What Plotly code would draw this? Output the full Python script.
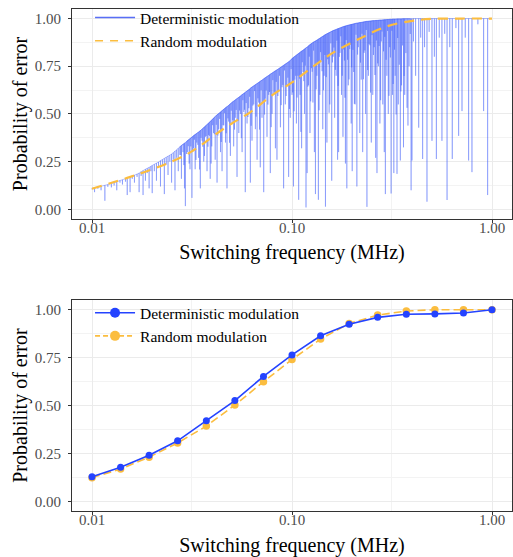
import plotly.graph_objects as go

# ---------------- data: top panel ----------------
# deterministic modulation (dense, spiky): each entry = frequency, local upper value, dip minimum
spike_f = [
    0.0100, 0.0103, 0.0107, 0.0111, 0.0116, 0.0120, 0.0125, 0.0129, 0.0133, 0.0138, 0.0142, 0.0147, 0.0150,
    0.0155, 0.0159, 0.0163, 0.0168, 0.0172, 0.0176, 0.0180, 0.0185, 0.0189, 0.0193, 0.0197, 0.0200,
    0.0205, 0.0210, 0.0215, 0.0220, 0.0225, 0.0230, 0.0235, 0.0240, 0.0245, 0.0250, 0.0255, 0.0260,
    0.0265, 0.0270, 0.0275, 0.0280, 0.0285, 0.0290, 0.0293, 0.0297,
    0.0300, 0.0306, 0.0312, 0.0316, 0.0322, 0.0328, 0.0334, 0.0341, 0.0348, 0.0355, 0.0362, 0.0369,
    0.0376, 0.0383, 0.0390, 0.0397, 0.0405, 0.0413, 0.0422, 0.0430, 0.0439, 0.0447, 0.0456, 0.0465,
    0.0473, 0.0482, 0.0492, 0.0502, 0.0511, 0.0521, 0.0531, 0.0542, 0.0552, 0.0563, 0.0574, 0.0584,
    0.0596, 0.0608, 0.0619, 0.0631, 0.0644, 0.0656, 0.0669, 0.0681, 0.0694, 0.0708, 0.0722, 0.0736,
    0.0750, 0.0765, 0.0779, 0.0795, 0.0810, 0.0826, 0.0841, 0.0858, 0.0875, 0.0892, 0.0908, 0.0926,
    0.0944, 0.0962, 0.0980,
    0.1000, 0.1017, 0.1034, 0.1052, 0.1070, 0.1080, 0.1098, 0.1117, 0.1136, 0.1155, 0.1175, 0.1190,
    0.1210, 0.1230, 0.1251, 0.1272, 0.1294, 0.1310, 0.1332, 0.1355, 0.1378, 0.1401, 0.1425, 0.1449,
    0.1470, 0.1495, 0.1520, 0.1546, 0.1580, 0.1607, 0.1634, 0.1662, 0.1690, 0.1710, 0.1739, 0.1768,
    0.1798, 0.1828, 0.1850, 0.1880, 0.1912, 0.1944, 0.1977, 0.2000, 0.2034, 0.2068, 0.2110, 0.2146,
    0.2182, 0.2219, 0.2256, 0.2294, 0.2333, 0.2370, 0.2410, 0.2451, 0.2492, 0.2534, 0.2577, 0.2620,
    0.2660, 0.2705, 0.2751, 0.2797, 0.2844, 0.2893, 0.2930, 0.2980, 0.3030, 0.3080,
    0.3130, 0.3180, 0.3230, 0.3280, 0.3350, 0.3400, 0.3480, 0.3530, 0.3610, 0.3660, 0.3760, 0.3850,
    0.3940, 0.3980, 0.4050, 0.4150, 0.4300, 0.4400, 0.4500, 0.4600, 0.4730, 0.4850, 0.5010, 0.5150,
    0.5270, 0.5450, 0.5620, 0.5800, 0.5960, 0.6150, 0.6330, 0.6600, 0.6810, 0.7080, 0.7350, 0.7640,
    0.7940, 0.8500, 0.9080, 0.9510, 1.0000,
]
spike_top = [
    0.110, 0.113, 0.117, 0.121, 0.126, 0.130, 0.136, 0.141, 0.145, 0.151, 0.155, 0.161, 0.164,
    0.170, 0.175, 0.179, 0.185, 0.190, 0.197, 0.203, 0.210, 0.215, 0.220, 0.225, 0.230,
    0.236, 0.242, 0.248, 0.255, 0.261, 0.267, 0.273, 0.279, 0.284, 0.290, 0.297, 0.305,
    0.312, 0.320, 0.328, 0.335, 0.340, 0.346, 0.349, 0.354,
    0.360, 0.367, 0.374, 0.379, 0.386, 0.392, 0.398, 0.405, 0.412, 0.420, 0.428, 0.436,
    0.444, 0.452, 0.460, 0.468, 0.478, 0.486, 0.495, 0.502, 0.510, 0.517, 0.525, 0.532,
    0.538, 0.545, 0.553, 0.561, 0.567, 0.574, 0.580, 0.587, 0.594, 0.601, 0.607, 0.613,
    0.620, 0.627, 0.634, 0.641, 0.647, 0.653, 0.659, 0.665, 0.671, 0.677, 0.684, 0.690,
    0.696, 0.702, 0.708, 0.714, 0.720, 0.726, 0.731, 0.737, 0.743, 0.749, 0.755, 0.761,
    0.767, 0.773, 0.779,
    0.790, 0.796, 0.802, 0.808, 0.814, 0.817, 0.823, 0.829, 0.834, 0.840, 0.846, 0.850,
    0.857, 0.863, 0.869, 0.874, 0.879, 0.882, 0.887, 0.892, 0.897, 0.902, 0.907, 0.912,
    0.916, 0.920, 0.924, 0.928, 0.933, 0.937, 0.940, 0.943, 0.946, 0.948, 0.951, 0.954,
    0.957, 0.959, 0.961, 0.963, 0.965, 0.967, 0.969, 0.970, 0.972, 0.974, 0.976, 0.977,
    0.979, 0.980, 0.981, 0.983, 0.984, 0.985, 0.986, 0.987, 0.988, 0.989, 0.989, 0.990,
    0.990, 0.991, 0.992, 0.992, 0.993, 0.994, 0.994, 0.995, 0.995, 0.996,
    0.996, 0.997, 0.997, 0.997, 0.998, 0.998, 0.998, 0.998, 0.999, 0.999, 0.999, 0.999,
    0.999, 0.999, 1.000, 1.000, 1.000, 1.000, 1.000, 1.000, 1.000, 1.000, 1.000, 1.000,
    1.000, 1.000, 1.000, 1.000, 1.000, 1.000, 1.000, 1.000, 1.000, 1.000, 1.000, 1.000,
    1.000, 1.000, 1.000, 1.000, 1.000,
]
spike_low = [
    0.105, 0.090, 0.108, 0.100, 0.045, 0.118, 0.115, 0.125, 0.100, 0.140, 0.130, 0.145, 0.075,
    0.090, 0.160, 0.140, 0.170, 0.090, 0.175, 0.075, 0.150, 0.190, 0.110, 0.200, 0.085,
    0.200, 0.150, 0.220, 0.120, 0.230, 0.080, 0.235, 0.180, 0.250, 0.140, 0.260, 0.100,
    0.270, 0.200, 0.285, 0.160, 0.300, 0.110, 0.017, 0.290,
    0.300, 0.240, 0.330, 0.060, 0.320, 0.210, 0.350, 0.270, 0.110, 0.360, 0.250, 0.380,
    0.200, 0.390, 0.160, 0.330, 0.400, 0.260, 0.140, 0.420, 0.300, 0.200, 0.440, 0.350,
    0.110, 0.460, 0.280, 0.450, 0.330, 0.480, 0.170, 0.400, 0.500, 0.300, 0.510, 0.090,
    0.450, 0.530, 0.140, 0.360, 0.550, 0.420, 0.260, 0.560, 0.220, 0.480, 0.090, 0.580,
    0.380, 0.600, 0.190, 0.500, 0.610, 0.320, 0.260, 0.620, 0.430, 0.640, 0.110, 0.550,
    0.650, 0.170, 0.480,
    0.600, 0.120, 0.680, 0.450, 0.700, 0.050, 0.600, 0.320, 0.720, 0.500, 0.010, 0.190,
    0.650, 0.400, 0.740, 0.560, 0.300, 0.080, 0.700, 0.050, 0.600, 0.780, 0.420, 0.700,
    0.014, 0.350, 0.760, 0.550, 0.150, 0.800, 0.480, 0.700, 0.260, 0.300, 0.820, 0.600,
    0.380, 0.780, 0.240, 0.110, 0.650, 0.840, 0.450, 0.200, 0.720, 0.550, 0.120, 0.850,
    0.400, 0.680, 0.300, 0.820, 0.500, 0.013, 0.700, 0.860, 0.350, 0.600, 0.850, 0.270,
    0.190, 0.750, 0.450, 0.880, 0.550, 0.300, 0.080, 0.700, 0.500, 0.850,
    0.083, 0.600, 0.190, 0.700, 0.186, 0.550, 0.256, 0.650, 0.325, 0.600, 0.532, 0.750,
    0.100, 0.256, 0.880, 0.700, 0.428, 0.900, 0.264, 0.850, 0.040, 0.930, 0.359, 0.800,
    0.264, 0.900, 0.359, 0.920, 0.049, 0.850, 0.264, 0.950, 0.385, 0.515, 0.900, 0.256,
    0.195, 0.970, 0.515, 0.075, 1.000,
]

# shallower dips forming the dense band just under the upper edge (frequency, upper value, dip minimum)
band_f = [
    0.0278, 0.0288, 0.0303, 0.0309, 0.0319, 0.0325, 0.0331, 0.0338, 0.0345, 0.0351, 0.0358, 0.0365,
    0.0372, 0.0380, 0.0386, 0.0394, 0.0401, 0.0409, 0.0418, 0.0426, 0.0435, 0.0443, 0.0452, 0.0460,
    0.0469, 0.0478, 0.0487, 0.0497, 0.0506, 0.0516, 0.0526, 0.0537, 0.0547, 0.0558, 0.0568, 0.0579,
    0.0590, 0.0602, 0.0614, 0.0625, 0.0637, 0.0650, 0.0662, 0.0675, 0.0688, 0.0701, 0.0715, 0.0729,
    0.0743, 0.0758, 0.0772, 0.0787, 0.0802, 0.0818, 0.0834, 0.0850, 0.0866, 0.0883, 0.0900, 0.0917,
    0.0935, 0.0953, 0.0971, 0.0990, 0.1008, 0.1025, 0.1043, 0.1061, 0.1089, 0.1107, 0.1126, 0.1145,
    0.1165, 0.1200, 0.1220, 0.1240, 0.1261, 0.1283, 0.1321, 0.1343, 0.1366, 0.1389, 0.1413, 0.1437,
    0.1459, 0.1483, 0.1508, 0.1533, 0.1563, 0.1593, 0.1620, 0.1648, 0.1676, 0.1700, 0.1724, 0.1753,
    0.1783, 0.1813, 0.1839, 0.1865, 0.1896, 0.1928, 0.1960, 0.1988, 0.2017, 0.2051, 0.2089, 0.2128,
    0.2164, 0.2200, 0.2238, 0.2275, 0.2313, 0.2351, 0.2390, 0.2430, 0.2471, 0.2513, 0.2555, 0.2598,
    0.2640, 0.2683, 0.2728, 0.2774, 0.2820, 0.2868, 0.2911, 0.2955, 0.3005, 0.3055, 0.3105, 0.3155,
    0.3205, 0.3255, 0.3315, 0.3375, 0.3440, 0.3505, 0.3570, 0.3635, 0.3710, 0.3800, 0.3900,
]
band_top = [
    0.332, 0.344, 0.363, 0.370, 0.382, 0.389, 0.395, 0.402, 0.409, 0.415, 0.424, 0.432,
    0.440, 0.448, 0.456, 0.464, 0.473, 0.482, 0.491, 0.499, 0.506, 0.513, 0.521, 0.528,
    0.535, 0.541, 0.549, 0.557, 0.564, 0.570, 0.577, 0.584, 0.590, 0.597, 0.604, 0.610,
    0.617, 0.624, 0.630, 0.638, 0.644, 0.650, 0.656, 0.662, 0.668, 0.674, 0.680, 0.687,
    0.693, 0.699, 0.705, 0.711, 0.717, 0.723, 0.728, 0.734, 0.740, 0.746, 0.752, 0.758,
    0.764, 0.770, 0.776, 0.785, 0.793, 0.799, 0.805, 0.811, 0.820, 0.826, 0.831, 0.837,
    0.843, 0.853, 0.860, 0.866, 0.871, 0.877, 0.884, 0.889, 0.894, 0.899, 0.904, 0.909,
    0.914, 0.918, 0.922, 0.926, 0.930, 0.935, 0.938, 0.941, 0.944, 0.947, 0.949, 0.952,
    0.955, 0.958, 0.960, 0.962, 0.964, 0.966, 0.968, 0.969, 0.971, 0.973, 0.975, 0.976,
    0.978, 0.979, 0.980, 0.982, 0.983, 0.985, 0.985, 0.986, 0.987, 0.988, 0.989, 0.989,
    0.990, 0.990, 0.991, 0.992, 0.992, 0.993, 0.994, 0.994, 0.995, 0.995, 0.996, 0.996,
    0.997, 0.997, 0.997, 0.998, 0.998, 0.998, 0.999, 0.999, 0.999, 0.999, 0.999,
]
band_low = [
    0.284, 0.232, 0.331, 0.210, 0.302, 0.365, 0.259, 0.338, 0.209, 0.375, 0.328, 0.280,
    0.384, 0.328, 0.384, 0.240, 0.441, 0.394, 0.443, 0.387, 0.474, 0.353, 0.441, 0.504,
    0.399, 0.477, 0.349, 0.517, 0.468, 0.418, 0.521, 0.464, 0.518, 0.373, 0.572, 0.522,
    0.557, 0.484, 0.590, 0.438, 0.544, 0.620, 0.486, 0.582, 0.418, 0.624, 0.560, 0.497,
    0.623, 0.549, 0.615, 0.431, 0.677, 0.613, 0.668, 0.594, 0.700, 0.546, 0.652, 0.728,
    0.594, 0.690, 0.526, 0.735, 0.613, 0.514, 0.700, 0.586, 0.685, 0.406, 0.771, 0.672,
    0.753, 0.643, 0.800, 0.566, 0.721, 0.832, 0.629, 0.769, 0.519, 0.824, 0.724, 0.624,
    0.809, 0.693, 0.787, 0.506, 0.870, 0.770, 0.848, 0.731, 0.884, 0.647, 0.799, 0.907,
    0.700, 0.838, 0.585, 0.887, 0.784, 0.681, 0.863, 0.744, 0.836, 0.553, 0.915, 0.811,
    0.888, 0.769, 0.920, 0.682, 0.833, 0.940, 0.730, 0.866, 0.612, 0.913, 0.809, 0.704,
    0.885, 0.765, 0.856, 0.572, 0.932, 0.828, 0.904, 0.784, 0.935, 0.595, 0.796, 0.936,
    0.657, 0.837, 0.497, 0.898, 0.758, 0.618, 0.859, 0.699, 0.819, 0.439, 0.919,
]

# random modulation (smooth)
rand_f = [0.01, 0.015, 0.02, 0.025, 0.03, 0.035, 0.042, 0.05, 0.062, 0.08, 0.1, 0.13, 0.16,
          0.22, 0.3, 0.4, 0.5, 0.7, 1.0]
rand_p = [0.108, 0.165, 0.21, 0.25, 0.29, 0.335, 0.397, 0.45, 0.51, 0.60, 0.665, 0.755, 0.82,
          0.897, 0.96, 0.988, 0.998, 1.0, 1.0]

# ---------------- data: bottom panel ----------------
freq_b = [0.01, 0.0139, 0.0193, 0.0268, 0.0373, 0.0518, 0.072, 0.1, 0.139, 0.193, 0.268,
          0.373, 0.518, 0.72, 1.0]
det_b = [0.129, 0.178, 0.241, 0.316, 0.421, 0.526, 0.652, 0.764, 0.864, 0.924, 0.960,
         0.976, 0.978, 0.983, 1.0]
rand_b = [0.124, 0.169, 0.231, 0.305, 0.393, 0.503, 0.624, 0.740, 0.847, 0.928, 0.972,
          0.993, 1.0, 1.0, 1.0]

# ticks
x_ticks = [0.01, 0.1, 1.0]
x_ticklabels = ["0.01", "0.10", "1.00"]
x_minor = [0.0316, 0.316]
y_ticks = [0.0, 0.25, 0.5, 0.75, 1.0]
y_ticklabels = ["0.00", "0.25", "0.50", "0.75", "1.00"]
y_minor = [0.125, 0.375, 0.625, 0.875]

BLUE = "#2443FF"
GOLD = "#FBBD3F"
SPIKE = "rgba(55,85,250,0.42)"
FONT = "Liberation Serif, Times New Roman, serif"


def spiky(fs, tops, lows):
    xs, ys = [], []
    for f, t, l in zip(fs, tops, lows):
        xs += [f, f, f]
        ys += [t, l, t]
    return xs, ys


fig = go.Figure()

# --- top panel ---
bx, by = spiky(band_f, band_top, band_low)
fig.add_trace(go.Scatter(x=bx, y=by, mode="lines", xaxis="x", yaxis="y",
                         line=dict(color=SPIKE, width=0.85),
                         showlegend=False, hoverinfo="skip"))
sx, sy = spiky(spike_f, spike_top, spike_low)
fig.add_trace(go.Scatter(x=sx, y=sy, mode="lines", xaxis="x", yaxis="y",
                         line=dict(color=SPIKE, width=0.85),
                         showlegend=False, hoverinfo="skip"))
fig.add_trace(go.Scatter(x=rand_f, y=rand_p, mode="lines", xaxis="x", yaxis="y",
                         line=dict(color=GOLD, width=2.2, dash="10px,7px", shape="spline"),
                         showlegend=False))
# legend entries (top)
fig.add_trace(go.Scatter(x=[None], y=[None], mode="lines", xaxis="x", yaxis="y",
                         name="Deterministic modulation", legend="legend",
                         line=dict(color="rgba(60,85,245,0.85)", width=1.5)))
fig.add_trace(go.Scatter(x=[None], y=[None], mode="lines", xaxis="x", yaxis="y",
                         name="Random modulation", legend="legend",
                         line=dict(color=GOLD, width=1.5, dash="8px,7px")))

# --- bottom panel ---
fig.add_trace(go.Scatter(x=freq_b, y=rand_b, mode="lines+markers", xaxis="x2", yaxis="y2",
                         line=dict(color=GOLD, width=1.6, dash="8px,4px"),
                         marker=dict(color=GOLD, size=7.5), showlegend=False))
fig.add_trace(go.Scatter(x=freq_b, y=det_b, mode="lines+markers", xaxis="x2", yaxis="y2",
                         line=dict(color=BLUE, width=1.6),
                         marker=dict(color=BLUE, size=7), showlegend=False))
fig.add_trace(go.Scatter(x=[None], y=[None], mode="lines+markers", xaxis="x2", yaxis="y2",
                         name="Deterministic modulation", legend="legend2",
                         line=dict(color=BLUE, width=1.6),
                         marker=dict(color=BLUE, size=10)))
fig.add_trace(go.Scatter(x=[None], y=[None], mode="lines+markers", xaxis="x2", yaxis="y2",
                         name="Random modulation", legend="legend2",
                         line=dict(color=GOLD, width=1.6, dash="5px,3px"),
                         marker=dict(color=GOLD, size=10)))

axis_common = dict(showline=True, mirror=True, linecolor="#333333", linewidth=1,
                   ticks="outside", ticklen=3, tickcolor="#333333", tickwidth=1,
                   showgrid=True, gridcolor="#EBEBEB", gridwidth=1, zeroline=False,
                   tickfont=dict(family=FONT, size=15, color="#4D4D4D"))

xaxis_common = dict(axis_common, type="log", range=[-2.1, 0.1],
                    tickvals=x_ticks, ticktext=x_ticklabels, ticklabelstandoff=-8,
                    minor=dict(tickvals=x_minor, showgrid=True, gridcolor="#F3F3F3",
                               gridwidth=0.6, ticklen=0),
                    title=dict(text="Switching frequency (MHz)",
                               font=dict(family=FONT, size=20, color="black"), standoff=10))
yaxis_common = dict(axis_common, range=[-0.05, 1.05],
                    tickvals=y_ticks, ticktext=y_ticklabels, ticklabelstandoff=4,
                    minor=dict(tickvals=y_minor, showgrid=True, gridcolor="#F3F3F3",
                               gridwidth=0.6, ticklen=0),
                    title=dict(text="Probability of error",
                               font=dict(family=FONT, size=20, color="black"), standoff=1))

legend_common = dict(borderwidth=0, xanchor="left", yanchor="top",
                     bgcolor="rgba(255,255,255,0)",
                     font=dict(family=FONT, size=15.5, color="black"),
                     itemwidth=40, tracegroupgap=0)

fig.update_layout(
    width=513, height=557,
    margin=dict(l=72, r=1, t=4, b=46),
    font=dict(family=FONT),
    paper_bgcolor="white", plot_bgcolor="white",
    xaxis=dict(xaxis_common, domain=[0, 1], anchor="y"),
    yaxis=dict(yaxis_common, domain=[0.5819, 1.0], anchor="x"),
    xaxis2=dict(xaxis_common, domain=[0, 1], anchor="y2"),
    yaxis2=dict(yaxis_common, domain=[0.0, 0.4201], anchor="x2"),
    legend=dict(legend_common, x=0.041, y=1.016),
    legend2=dict(legend_common, x=0.041, y=0.428),
    showlegend=True,
)

fig.write_html("out.html", config={"displayModeBar": False},
               post_script="document.body.style.margin='0px';")
